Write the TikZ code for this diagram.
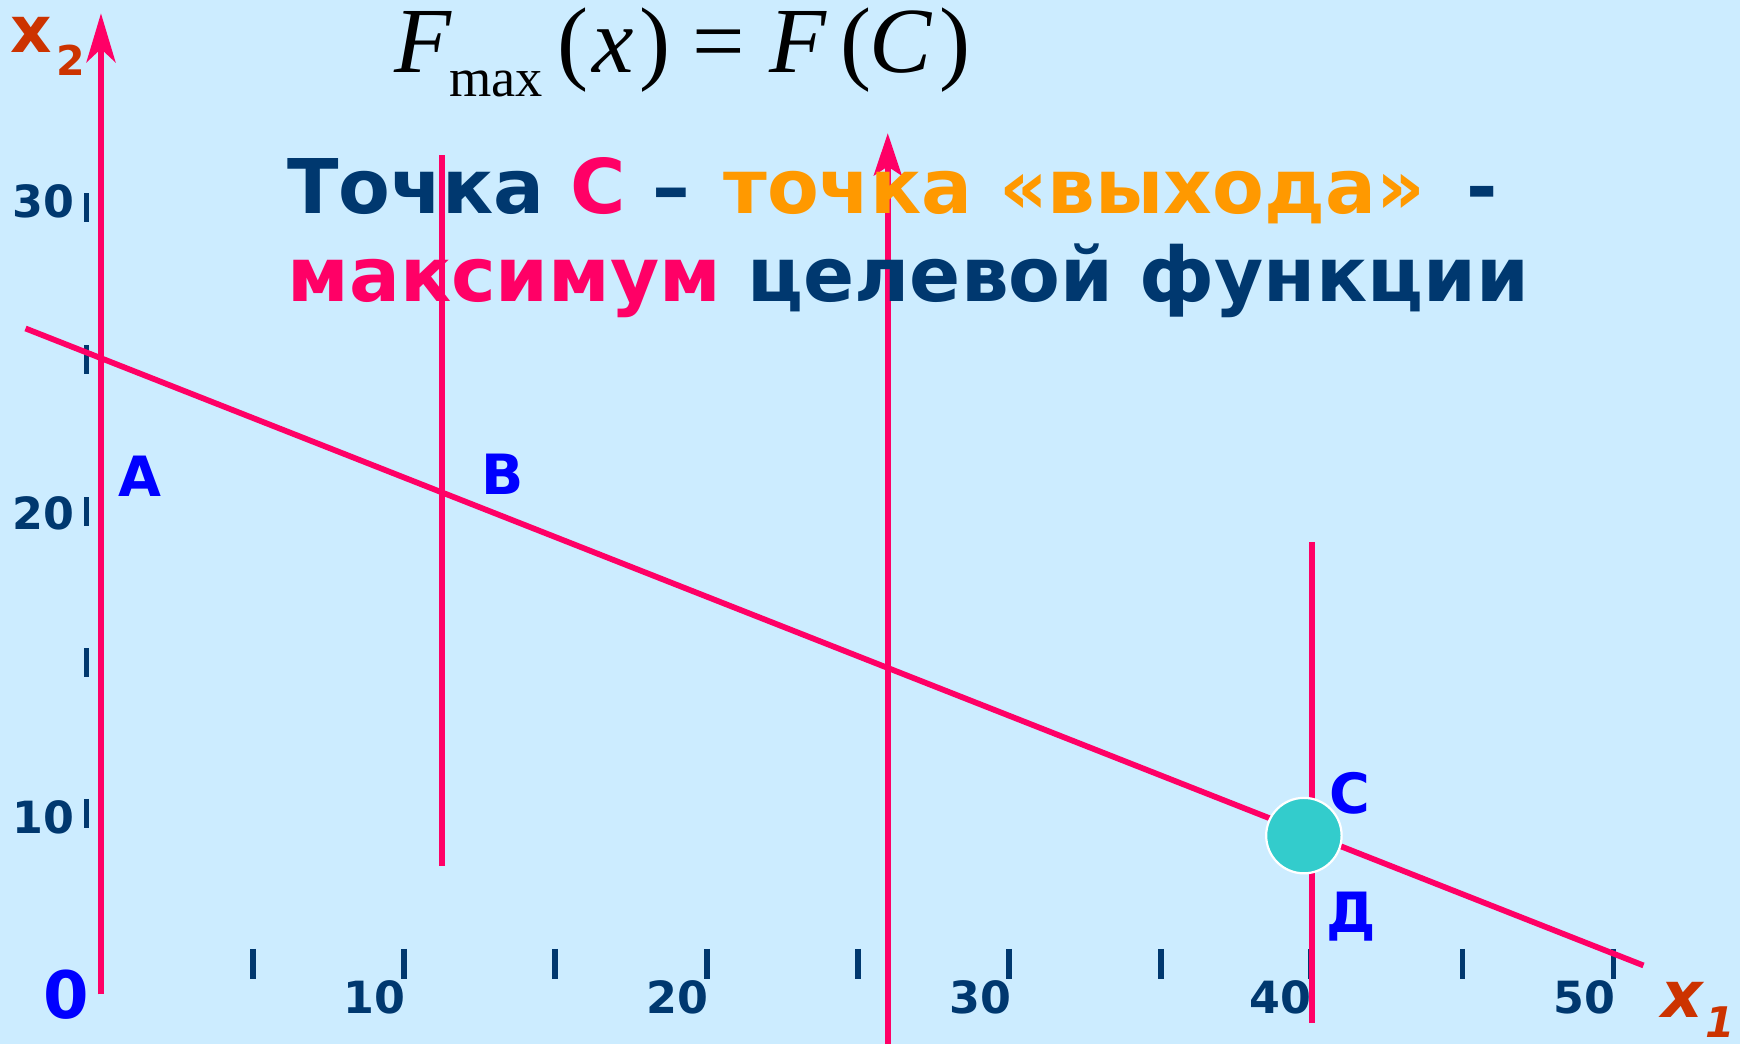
\documentclass[tikz,border=0pt]{standalone}
\usepackage{fontspec}
\setmainfont{DejaVu Sans}
\newfontfamily\tms{Liberation Serif}
\usetikzlibrary{arrows.meta}
\definecolor{bgc}{HTML}{CCECFF}
\definecolor{navyc}{HTML}{00386F}
\definecolor{pinkc}{HTML}{FF0066}
\definecolor{orangec}{HTML}{FF9900}
\definecolor{bluec}{HTML}{0000FF}
\definecolor{axlab}{HTML}{CC3300}
\definecolor{dotc}{HTML}{33CCCC}
\tikzset{
  redthick/.style={draw=pinkc, line width=2.9pt},
  redthin/.style={draw=pinkc, line width=2.6pt},
  tickline/.style={draw=navyc, line width=2.6pt},
  ticklab/.style={font=\bfseries\fontsize{20}{20}\selectfont, text=navyc},
  ptlab/.style={font=\bfseries\fontsize{25}{25}\selectfont, text=bluec, anchor=base},
  fml/.style={font=\tms\fontsize{42}{42}\selectfont, anchor=base},
  ttl/.style={font=\bfseries\fontsize{34}{34}\selectfont, anchor=base west},
}
\begin{document}
\begin{tikzpicture}[x=0.5pt,y=-0.5pt, every node/.style={inner sep=0pt, outer sep=0pt}]
\fill[bgc] (0,0) rectangle (1568,941);
\useasboundingbox (0,0) rectangle (1568,941);

% coordinates
\coordinate (Ybot) at (91,896);
\coordinate (Ytip) at (91,12);
\coordinate (L1) at (23,296);
\coordinate (L2) at (1481,870);
\coordinate (V1t) at (398,140);
\coordinate (V1b) at (398,780);
\coordinate (V2b) at (800,941);
\coordinate (V2t) at (800,120);
\coordinate (V3t) at (1182,488);
\coordinate (V3b) at (1182,922);

% ticks
\foreach \tx in {228,364,500,637,773,909,1046,1181,1318,1454}
  \draw[tickline] (\tx,855) -- (\tx,882);
\foreach \ty in {187,324,461,597,733}
  \draw[tickline] (78,\ty-13) -- (78,\ty+13);

% lines
\draw[redthin] (V1b) -- (V1t);
\draw[redthin, -{Stealth[length=19pt,width=12.5pt,inset=4pt]}] (V2b) -- (V2t);
\draw[redthin] (V3b) -- (V3t);
\draw[redthick, -{Stealth[length=22pt,width=13pt,inset=6pt]}] (Ybot) -- (Ytip);
\draw[redthin] (L1) -- (L2);

% point C
\node[circle, fill=dotc, draw=white, line width=1pt, minimum size=34pt] (Cdot) at (1175,753) {};

% tick labels
\node[ticklab, anchor=base east] (lx10) at (365,913) {10};
\node[ticklab, anchor=base east] (lx20) at (638,913) {20};
\node[ticklab, anchor=base east] (lx30) at (911,913) {30};
\node[ticklab, anchor=base east] (lx40) at (1182,913) {40};
\node[ticklab, anchor=base east] (lx50) at (1456,913) {50};
\node[ticklab, anchor=base east] (ly30) at (67,196) {30};
\node[ticklab, anchor=base east] (ly20) at (67,477) {20};
\node[ticklab, anchor=base east] (ly10) at (67,751) {10};
\node[font=\bfseries\fontsize{29.5}{29.5}\selectfont, text=bluec, anchor=base] (orig) at (60,918) {0};

% axis names
\node[font=\bfseries\fontsize{29}{29}\selectfont, text=axlab, anchor=base] (x2a) at (28,47) {x};
\node[font=\bfseries\fontsize{18.5}{18.5}\selectfont, text=axlab, anchor=base] (x2b) at (64,68) {2};
\node[font=\bfseries\itshape\fontsize{29}{29}\selectfont, text=axlab, anchor=base] (x1a) at (1516,917) {x};
\node[font=\bfseries\itshape\fontsize{19}{19}\selectfont, text=axlab, anchor=base] (x1b) at (1550,935) {1};

% point labels
\node[ptlab] (pA) at (126,447) {А};
\node[ptlab] (pB) at (453,446) {В};
\node[ptlab] (pC) at (1216,733) {С};
\node[ptlab] (pD) at (1218,840) {Д};

% formula
\node[fml] (f1) at (381,65) {\itshape F};
\node[fml, font=\tms\fontsize{24.5}{24.5}\selectfont] (fmax) at (447,87) {max};
\node[fml] (flp1) at (516,65) {(};
\node[fml] (fx) at (553,65) {\itshape x};
\node[fml] (frp1) at (590,65) {)};
\node[fml] (feq) at (648,65) {=};
\node[fml] (f2) at (719,65) {\itshape F};
\node[fml] (flp2) at (771,65) {(};
\node[fml] (fC) at (812,65) {\itshape C};
\node[fml] (frp2) at (861,65) {)};

% title
\node[ttl] (t1) at (259,192) {\textcolor{navyc}{Точка} \textcolor{pinkc}{С} \textcolor{navyc}{–}\hspace{3pt} \textcolor{orangec}{точка «выхода»}\hspace{7pt} \textcolor{navyc}{-}};
\node[ttl] (t2) at (259,272) {\textcolor{pinkc}{максимум} \textcolor{navyc}{целевой функции}};
\end{tikzpicture}
\end{document}
